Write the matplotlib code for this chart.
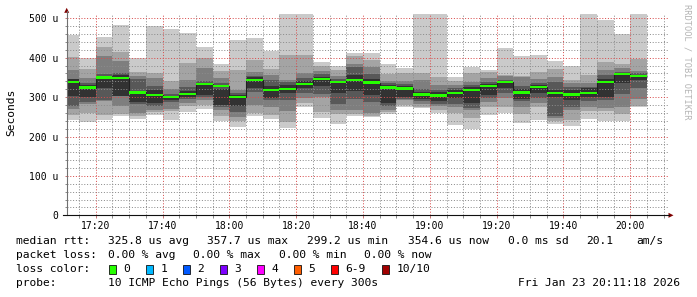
import numpy as np
import pandas as pd
import matplotlib
matplotlib.use("Agg")
import matplotlib.pyplot as plt
import matplotlib.dates as mdates
from matplotlib.ticker import MultipleLocator, FuncFormatter
from matplotlib.patches import Rectangle, Polygon
from matplotlib.lines import Line2D

W, H = 697, 297
MONO = "DejaVu Sans Mono"

# ------------------------------------------------------------ data (microseconds)
t_start = pd.Timestamp("2026-01-23 17:11:18")
t_stop = pd.Timestamp("2026-01-23 20:11:18")
bin_end = pd.date_range("2026-01-23 17:15", "2026-01-23 20:05", freq="5min")

# 10 pings per step, sorted (ping_01 = fastest ... ping_10 = slowest)
ping_01 = [242, 238, 242, 252, 245, 254, 242, 263, 269, 239, 225, 252, 244, 222, 274, 246, 232, 252,
           249, 257, 274, 273, 260, 229, 219, 255, 259, 235, 243, 232, 227, 244, 239, 240, 276]
ping_02 = [255, 259, 255, 257, 251, 262, 266, 277, 281, 252, 240, 259, 255, 238, 284, 262, 258, 256,
           253, 262, 280, 275, 267, 259, 246, 274, 275, 257, 276, 240, 241, 264, 266, 257, 277]
ping_03 = [270, 283, 291, 277, 260, 268, 271, 286, 293, 267, 250, 280, 276, 264, 297, 300, 268, 267,
           260, 268, 292, 283, 277, 275, 268, 288, 297, 275, 286, 248, 268, 276, 272, 276, 295]
ping_04 = [278, 287, 293, 302, 282, 278, 287, 294, 300, 276, 263, 314, 293, 293, 310, 308, 283, 294,
           288, 277, 296, 290, 282, 282, 272, 297, 310, 290, 297, 252, 274, 289, 293, 307, 322]
ping_05 = [302, 300, 322, 304, 288, 285, 293, 300, 305, 280, 278, 322, 299, 310, 322, 328, 311, 316,
           305, 284, 300, 296, 291, 297, 286, 305, 323, 294, 310, 300, 293, 301, 300, 337, 343]
ping_06 = [345, 330, 352, 355, 316, 318, 303, 315, 330, 320, 305, 350, 328, 330, 340, 352, 340, 355,
           345, 330, 328, 313, 312, 318, 325, 333, 341, 320, 331, 318, 318, 322, 345, 362, 357]
ping_07 = [347, 335, 359, 362, 345, 328, 309, 325, 342, 335, 310, 353, 343, 338, 348, 359, 346, 377,
           359, 335, 333, 320, 317, 323, 331, 339, 343, 328, 337, 338, 326, 325, 356, 364, 360]
ping_08 = [370, 348, 404, 392, 354, 348, 321, 343, 374, 348, 318, 365, 356, 344, 361, 367, 354, 384,
           377, 341, 340, 343, 330, 331, 339, 348, 354, 350, 347, 352, 335, 336, 369, 374, 366]
ping_09 = [401, 372, 426, 415, 365, 360, 341, 387, 400, 367, 369, 395, 372, 407, 407, 378, 370, 404,
           395, 359, 360, 360, 352, 341, 362, 364, 357, 354, 365, 371, 343, 356, 390, 384, 396]
ping_10 = [458, 399, 453, 483, 400, 481, 472, 464, 427, 384, 445, 450, 418, 520, 520, 390, 378, 412,
           413, 384, 373, 520, 520, 350, 377, 369, 424, 404, 407, 392, 379, 520, 496, 459, 520]
median = [338, 324, 350, 349, 312, 305, 300, 308, 334, 328, 300, 344, 318, 320, 334, 346, 338, 344,
          337, 324, 322, 307, 304, 311, 318, 328, 339, 312, 325, 311, 307, 311, 339, 358, 354]

loss_labels = ["0", "1", "2", "3", "4", "5", "6-9", "10/10"]
loss_colors = ["#26ff00", "#00b8ff", "#0059ff", "#7e00ff", "#ff00ff", "#ff5e00", "#ff0000", "#a10000"]

stats_rtt = ["325.8 us avg", "357.7 us max", "299.2 us min", "354.6 us now", "0.0 ms sd", "20.1", "am/s"]
stats_loss = ["0.00 % avg", "0.00 % max", "0.00 % min", "0.00 % now"]
probe_txt = "10 ICMP Echo Pings (56 Bytes) every 300s"
stamp_txt = "Fri Jan 23 20:11:18 2026"

# smokeping grey levels, outer pair -> inner pair
SMOKE = ["#cacaca", "#a4a4a4", "#7e7e7e", "#585858", "#323232"]


def fx(x):
    return x / W


def fy(y):
    return 1 - y / H


fig = plt.figure(figsize=(W / 100, H / 100), dpi=100, facecolor="white")
ax = fig.add_axes([fx(66.7), fy(215.3), (668 - 66.7) / W, (215.3 - 14) / H])
ax.set_facecolor("white")

pings = np.array([ping_01, ping_02, ping_03, ping_04, ping_05,
                  ping_06, ping_07, ping_08, ping_09, ping_10], dtype=float)
med = np.array(median, dtype=float)
edges = list(bin_end - pd.Timedelta(minutes=5)) + [bin_end[-1]]
xe = mdates.date2num(edges)

for i in range(5):
    lo = pings[i]
    hi = pings[9 - i]
    ax.fill_between(xe, np.append(lo, lo[-1]), np.append(hi, hi[-1]), step="post",
                    color=SMOKE[i], lw=0, zorder=1)

ax.stairs(med, xe, baseline=None, color="#202020", lw=0.8, zorder=3)
hw = 3.0
ax.fill_between(xe, np.append(med - hw, med[-1] - hw), np.append(med + hw, med[-1] + hw),
                step="post", color=loss_colors[0], lw=0, zorder=4)

ax.set_xlim(mdates.date2num(t_start), mdates.date2num(t_stop))
ax.set_ylim(0, 511)

ax.yaxis.set_major_locator(MultipleLocator(100))
ax.yaxis.set_minor_locator(MultipleLocator(20))
ax.yaxis.set_major_formatter(FuncFormatter(lambda v, _: "0" if v == 0 else f"{v:.0f} u"))
ax.xaxis.set_major_locator(mdates.MinuteLocator(byminute=[0, 20, 40]))
ax.xaxis.set_minor_locator(mdates.MinuteLocator(byminute=range(0, 60, 5)))
ax.xaxis.set_major_formatter(mdates.DateFormatter("%H:%M"))

minor_c = (0.55, 0.55, 0.55, 0.22)
major_c = (0.85, 0.30, 0.30, 0.25)
ax.set_axisbelow(False)
ax.grid(which="minor", color=minor_c, lw=0.72, ls=(0, (1, 1.8)))
ax.grid(which="major", color=major_c, lw=0.72, ls=(0, (1, 1.8)))
ax.tick_params(which="minor", length=1.8, width=0.72, color="#8c8c8c")
ax.tick_params(which="major", length=1.8, width=0.72, color="#c87878")
ax.tick_params(axis="y", which="major", pad=4, labelsize=7)
ax.tick_params(axis="x", which="major", pad=2.5, labelsize=7)
for lab in ax.get_xticklabels() + ax.get_yticklabels():
    lab.set_fontfamily(MONO)
for s in ax.spines.values():
    s.set_visible(False)

# axis lines with rrdtool arrows
fig.add_artist(Line2D([fx(66.7), fx(66.7)], [fy(215.3), fy(11)], color="#707070", lw=0.8))
fig.add_artist(Line2D([fx(63), fx(669)], [fy(215.3), fy(215.3)], color="#101010", lw=0.8))
fig.add_artist(Polygon([(fx(64.2), fy(12.8)), (fx(69.2), fy(12.8)), (fx(66.7), fy(7.8))],
                       closed=True, color="#800000", lw=0))
fig.add_artist(Polygon([(fx(668.5), fy(212.8)), (fx(668.5), fy(217.8)), (fx(673.5), fy(215.3))],
                       closed=True, color="#800000", lw=0))

fig.text(fx(11), fy(112), "Seconds", rotation=90, ha="center", va="center",
         fontsize=8.1, family=MONO)
fig.text(fx(687.5), fy(4), "RRDTOOL / TOBI OETIKER", rotation=270, ha="center", va="top",
         fontsize=6.2, family=MONO, color="#b4b4b4")

# ------------------------------------------------------------ legend block
row_y = [241.3, 255, 269, 282.6]
fs = 8.1


def put(x, y, s, **kw):
    fig.text(fx(x), fy(y), s, ha=kw.pop("ha", "left"), va="center", fontsize=fs,
             family=MONO, color="black", **kw)


put(16, row_y[0], "median rtt:")
for xx, s in zip([107.5, 207.4, 306.8, 408, 507.6, 585.8, 636.4], stats_rtt):
    put(xx, row_y[0], s)

put(16, row_y[1], "packet loss:")
for xx, s in zip([107.5, 193.3, 279, 364.4], stats_loss):
    put(xx, row_y[1], s)

put(16, row_y[2], "loss color:")
box_x = [108.5, 145.5, 182.5, 219.5, 256.5, 293.5, 330.5, 381.5]
for bx, lab, c in zip(box_x, loss_labels, loss_colors):
    fig.add_artist(Rectangle((fx(bx), fy(273.8)), 7 / W, 9 / H, facecolor=c,
                             edgecolor="#101010", lw=0.6))
    put(bx + 15, row_y[2], lab)

put(16, row_y[3], "probe:")
put(107.5, row_y[3], probe_txt)
put(680.5, row_y[3], stamp_txt, ha="right")

fig.savefig("out.png", dpi=100, facecolor="white")
